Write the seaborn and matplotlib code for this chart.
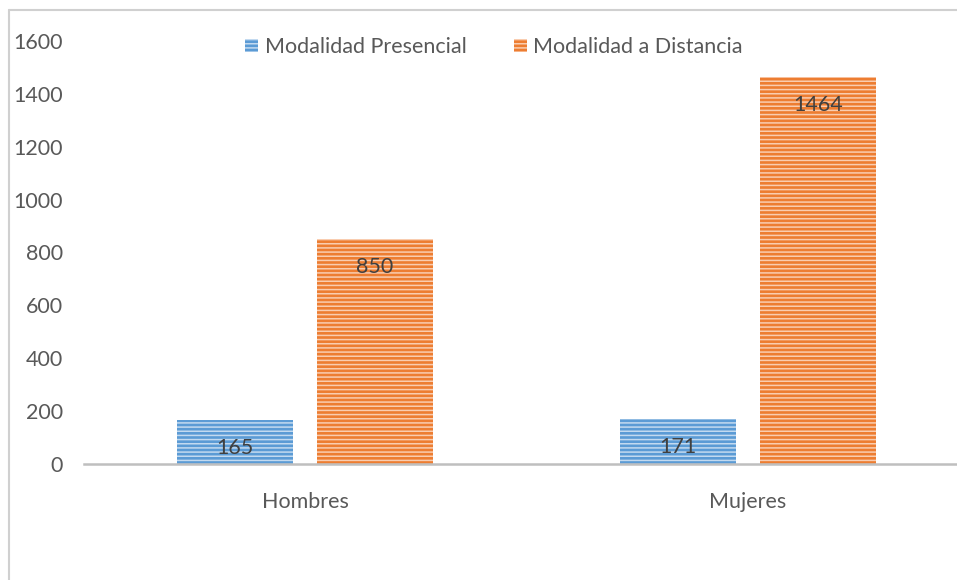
import matplotlib
matplotlib.use("Agg")
import matplotlib.pyplot as plt
from matplotlib.patches import Patch
from matplotlib.lines import Line2D
import pandas as pd
import seaborn as sns

categories = ["Hombres", "Mujeres"]
series_names = ["Modalidad Presencial", "Modalidad a Distancia"]
presencial = [165, 171]
distancia = [850, 1464]
y_ticks = [0, 200, 400, 600, 800, 1000, 1200, 1400, 1600]

df = pd.DataFrame({
    "Sexo": categories * 2,
    "Modalidad": [series_names[0]] * 2 + [series_names[1]] * 2,
    "Total": presencial + distancia,
})

sns.set_theme(style="white")
plt.rcParams["font.family"] = ["Lato", "DejaVu Sans"]
plt.rcParams["hatch.linewidth"] = 1.1

face = {series_names[0]: "#5b9bd5", series_names[1]: "#ed7d31"}
stripe = {series_names[0]: "#c3daf0", series_names[1]: "#f9cdb0"}
HATCH = "----"
FS = 15.5

fig = plt.figure(figsize=(9.57, 5.8), dpi=100)
ax = fig.add_axes([83.5 / 957, 1 - 464 / 580, 886 / 957, 423 / 580])

sns.barplot(data=df, x="Sexo", y="Total", hue="Modalidad", order=categories,
            hue_order=series_names, palette=face, width=0.632, gap=0.178,
            ax=ax, legend=False, saturation=1)

for cont, name in zip(ax.containers, series_names):
    for bar in cont:
        bar.set_hatch(HATCH)
        bar.set_edgecolor(stripe[name])
        bar.set_linewidth(0)
    for bar, val in zip(cont, cont.datavalues):
        ax.annotate(f"{val:.0f}", (bar.get_x() + bar.get_width() / 2, val),
                    xytext=(0, -20), textcoords="offset points",
                    ha="center", va="center", fontsize=FS, color="#404040")

ax.set_xlim(-0.5, 1.5)
ax.set_ylim(0, 1600)
ax.set_yticks(y_ticks)
ax.set_xlabel("")
ax.set_ylabel("")
ax.tick_params(axis="y", length=0, pad=15, labelsize=FS, labelcolor="#595959")
ax.tick_params(axis="x", length=0, pad=20, labelsize=FS, labelcolor="#595959")
for side in ["top", "right", "left"]:
    ax.spines[side].set_visible(False)
ax.spines["bottom"].set_color("#bfbfbf")
ax.spines["bottom"].set_linewidth(1.8)
ax.grid(False)

handles = [Patch(facecolor=face[n], edgecolor=stripe[n], hatch=HATCH,
                 linewidth=0, label=n) for n in series_names]
fig.legend(handles=handles, loc="center", bbox_to_anchor=(494 / 957, 1 - 47 / 580),
           ncol=2, frameon=False, fontsize=FS, labelcolor="#595959",
           handlelength=0.6, handleheight=0.6, handletextpad=0.3,
           columnspacing=2.2)

# outer chart-area frame (top and left edges)
fx, fy = 8.5 / 957, 1 - 9.5 / 580
fig.add_artist(Line2D([fx, 1.0], [fy, fy], transform=fig.transFigure,
                      color="#d0d0d0", linewidth=1.5, zorder=10))
fig.add_artist(Line2D([fx, fx], [0.0, fy], transform=fig.transFigure,
                      color="#d0d0d0", linewidth=1.5, zorder=10))

fig.savefig("out.png", dpi=100)
